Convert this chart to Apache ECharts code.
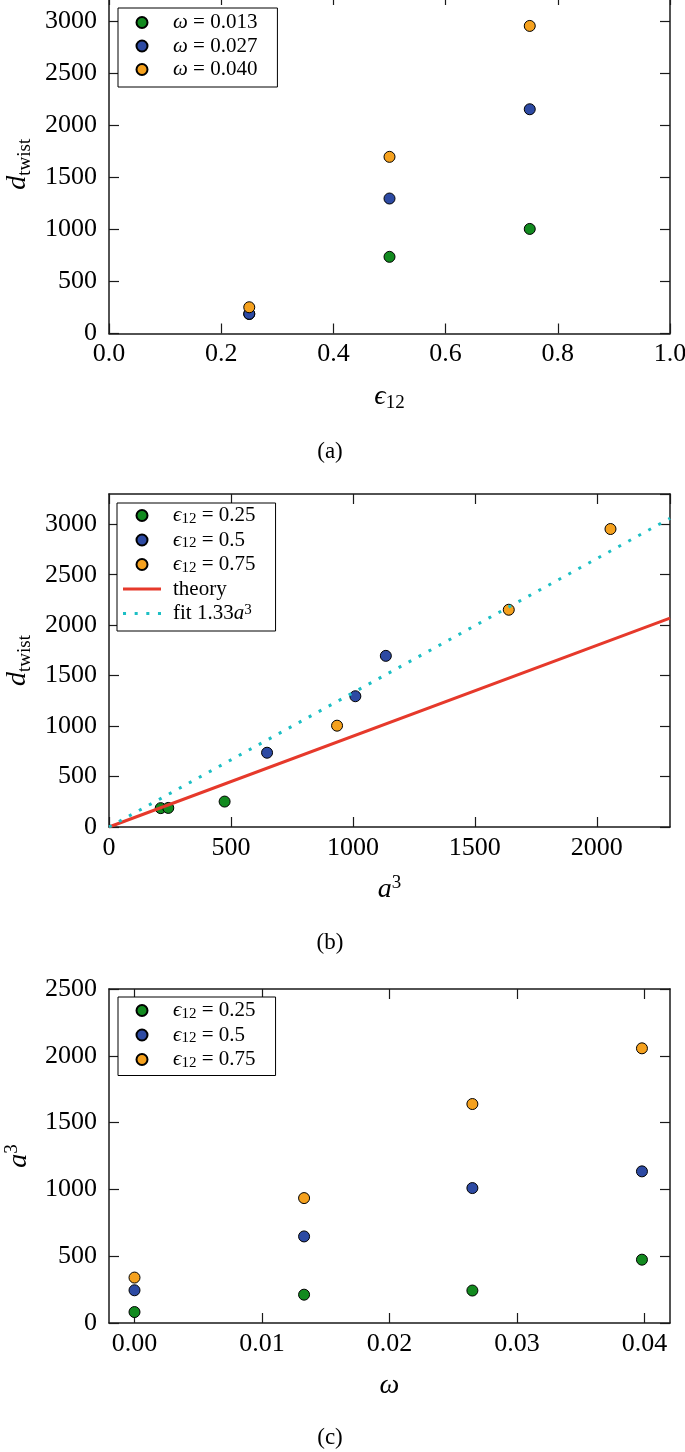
<!DOCTYPE html>
<html>
<head>
<meta charset="utf-8">
<script src="https://cdn.jsdelivr.net/npm/echarts@6/dist/echarts.min.js"></script>
<style>
html,body{margin:0;padding:0;background:#fff;}
#chart{width:685px;height:1452px;}
</style>
</head>
<body>
<div id="chart"></div>
<script>
// ---------- data ----------
const epsilon = [0.25, 0.5, 0.75];
const omegaLabels = ['0.013', '0.027', '0.040'];
const epsLabels = ['0.25', '0.5', '0.75'];
// panel (a): d_twist vs epsilon_12, one array per omega
const dTwistW013 = [187, 736, 1004];
const dTwistW027 = [189, 1296, 2153];
const dTwistW040 = [252, 1696, 2953];
// panel (c): a^3 vs omega, one array per epsilon
const omega = [0, 0.0133, 0.0265, 0.0398];
const a3Eps025 = [82, 212, 243, 474];
const a3Eps050 = [245, 648, 1010, 1135];
const a3Eps075 = [340, 935, 1639, 2056];
// panel (b): theory and fit lines (end points)
const lineA3 = [0, 2300];
const theoryD = [0, 2070];
const fitD = [0, 3059];
// ticks
const ticksC_x = [0, 0.01, 0.02, 0.03, 0.04];

// ---------- styling ----------
const FONT = '"Liberation Serif", "DejaVu Serif", serif';
const COLORS = ['#128a1f', '#2d4aa3', '#f5a11e'];
const AXIS_COLOR = '#1a1a1a';

const nameRich = {
  i: {fontFamily: FONT, fontStyle: 'italic', fontSize: 28, lineHeight: 32, color: '#000'},
  sub: {fontFamily: FONT, fontSize: 19, lineHeight: 13, verticalAlign: 'bottom', color: '#000'},
  sup: {fontFamily: FONT, fontSize: 19, lineHeight: 20, verticalAlign: 'top', color: '#000'}
};
const legRich = {
  i: {fontFamily: FONT, fontStyle: 'italic', fontSize: 21, lineHeight: 22, color: '#000'},
  t: {fontFamily: FONT, fontSize: 21, lineHeight: 22, color: '#000'},
  sub: {fontFamily: FONT, fontSize: 15, lineHeight: 9, verticalAlign: 'bottom', color: '#000'},
  sup: {fontFamily: FONT, fontSize: 15, lineHeight: 14, verticalAlign: 'top', color: '#000'}
};

const legendText = {};
omegaLabels.forEach(o => { legendText['ω = ' + o] = '{i|ω}{t| = ' + o + '}'; });
epsLabels.forEach(e => { legendText['ϵ12 = ' + e] = '{i|ϵ}{sub|12}{t| = ' + e + '}'; });
legendText['theory'] = '{t|theory}';
legendText['fit'] = '{t|fit 1.33}{i|a}{sup|3}';

const ICON_LINE = 'path://M0,0h38v3h-38z';
const ICON_DOTS = 'path://M0,0h3v3h-3zM11.5,0h3v3h-3zM23,0h3v3h-3zM34.5,0h3v3h-3z';

function grid(top, height) {
  return {left: 109, width: 561, top: top, height: height, containLabel: false, outerBoundsMode: 'none', show: false};
}

function axisLine() { return {show: true, onZero: false, lineStyle: {color: AXIS_COLOR, width: 1.5}}; }
function axisTick(custom) {
  const t = {show: true, inside: true, length: 10, lineStyle: {color: AXIS_COLOR, width: 1.2}};
  if (custom) t.customValues = custom;
  return t;
}

function xAxes(gi, min, max, interval, fmt, name, opts) {
  opts = opts || {};
  const label = {show: true, fontFamily: FONT, fontSize: 26, color: '#000', margin: 8,
    formatter: fmt, showMaxLabel: opts.showMax !== false, showMinLabel: true};
  if (opts.custom) label.customValues = opts.custom;
  const base = {type: 'value', gridIndex: gi, min: min, max: max, splitLine: {show: false}};
  if (interval) base.interval = interval;
  return [
    Object.assign({}, base, {position: 'bottom', axisLine: axisLine(), axisTick: axisTick(opts.custom),
      axisLabel: label, name: name, nameLocation: 'middle', nameGap: 47,
      nameTextStyle: {rich: nameRich}}),
    Object.assign({}, base, {position: 'top', axisLine: axisLine(), axisTick: axisTick(opts.custom),
      axisLabel: {show: false}})
  ];
}
function yAxes(gi, min, max, interval, name, opts) {
  opts = opts || {};
  const base = {type: 'value', gridIndex: gi, min: min, max: max, interval: interval, splitLine: {show: false}};
  return [
    Object.assign({}, base, {position: 'left', axisLine: axisLine(), axisTick: axisTick(),
      axisLabel: {show: true, fontFamily: FONT, fontSize: 26, color: '#000', margin: 12,
        showMaxLabel: opts.showMax !== false, formatter: v => String(v)},
      name: name, nameLocation: 'middle', nameRotate: 90, nameGap: opts.nameGap || 74,
      nameTextStyle: {rich: nameRich}}),
    Object.assign({}, base, {position: 'right', axisLine: axisLine(), axisTick: axisTick(),
      axisLabel: {show: false}})
  ];
}

function legendItem(n) {
  if (n === 'theory') return {name: n, icon: ICON_LINE};
  if (n === 'fit') return {name: n, icon: ICON_DOTS};
  return {name: n, icon: 'circle'};
}

function legend(left, top, names, padding, gap, textPad) {
  return {
    left: left, top: top, orient: 'vertical', selectedMode: false,
    data: names.map(legendItem), itemWidth: 38, itemHeight: 11, itemGap: gap,
    symbolKeepAspect: true,
    padding: padding, backgroundColor: '#fff', borderColor: '#000', borderWidth: 1, borderRadius: 0,
    textStyle: {rich: legRich, color: '#000', padding: [0, 0, 0, textPad]},
    formatter: n => legendText[n]
  };
}

function pairs(xs, ys) { return xs.map((x, k) => [x, ys[k]]); }

function scatter(name, xi, yi, data, color) {
  return {type: 'scatter', name: name, xAxisIndex: xi, yAxisIndex: yi, data: data,
    symbol: 'circle', symbolSize: 11, z: 2,
    itemStyle: {color: color, borderColor: '#000', borderWidth: 1, opacity: 1}};
}

// ---------- series ----------
const series = [];
// (a)
[dTwistW013, dTwistW027, dTwistW040].forEach((arr, k) => {
  series.push(scatter('ω = ' + omegaLabels[k], 0, 0, pairs(epsilon, arr), COLORS[k]));
});
// (b)
const dByEps = epsilon.map((e, j) => [dTwistW013[j], dTwistW027[j], dTwistW040[j]]);
[a3Eps025, a3Eps050, a3Eps075].forEach((arr, k) => {
  series.push(scatter('ϵ12 = ' + epsLabels[k], 2, 2, pairs(arr.slice(1), dByEps[k]), COLORS[k]));
});
series.push({type: 'line', name: 'theory', xAxisIndex: 2, yAxisIndex: 2, data: pairs(lineA3, theoryD),
  symbol: 'none', showSymbol: false, z: 3, clip: true,
  lineStyle: {color: '#e6392b', width: 3}, itemStyle: {color: '#e6392b', borderWidth: 0}});
series.push({type: 'line', name: 'fit', xAxisIndex: 2, yAxisIndex: 2, data: pairs(lineA3, fitD),
  symbol: 'none', showSymbol: false, z: 3, clip: true,
  lineStyle: {color: '#1cbfc4', width: 3, type: [3, 8.4], cap: 'butt'}, itemStyle: {color: '#1cbfc4', borderWidth: 0}});
// (c)
[a3Eps025, a3Eps050, a3Eps075].forEach((arr, k) => {
  series.push(scatter('ϵ12 = ' + epsLabels[k], 4, 4, pairs(omega, arr), COLORS[k]));
});

const option = {
  backgroundColor: '#fff',
  animation: false,
  grid: [grid(-5, 338.5), grid(494, 333), grid(989, 334)],
  xAxis: [].concat(
    xAxes(0, 0, 1, 0.2, v => v.toFixed(1), '{i|ϵ}{sub|12}'),
    xAxes(1, 0, 2300, 500, v => String(v), '{i|a}{sup|3}', {showMax: false}),
    xAxes(2, -0.002, 0.042, null, v => v.toFixed(2), '{i|ω}', {custom: ticksC_x})
  ),
  yAxis: [].concat(
    yAxes(0, 0, 3250, 500, '{i|d}{sub|twist}', {showMax: false}),
    yAxes(1, 0, 3300, 500, '{i|d}{sub|twist}', {showMax: false}),
    yAxes(2, 0, 2500, 500, '{i|a}{sup|3}')
  ),
  legend: [
    legend(118, 8, ['ω = 0.013', 'ω = 0.027', 'ω = 0.040'], [4, 20, 7, 17.5], 2.5, 7),
    legend(117, 503, ['ϵ12 = 0.25', 'ϵ12 = 0.5', 'ϵ12 = 0.75', 'theory', 'fit'], [2, 20, 7, 6], 3, 7),
    legend(118, 997, ['ϵ12 = 0.25', 'ϵ12 = 0.5', 'ϵ12 = 0.75'], [3, 20, 5, 17.5], 3, 7)
  ],
  graphic: [
    {type: 'text', x: 330, y: 452, style: {text: '(a)', fontFamily: FONT, fontSize: 23, fill: '#000', align: 'center', verticalAlign: 'middle'}},
    {type: 'text', x: 330, y: 943, style: {text: '(b)', fontFamily: FONT, fontSize: 23, fill: '#000', align: 'center', verticalAlign: 'middle'}},
    {type: 'text', x: 330, y: 1438, style: {text: '(c)', fontFamily: FONT, fontSize: 23, fill: '#000', align: 'center', verticalAlign: 'middle'}}
  ],
  series: series
};

const chart = echarts.init(document.getElementById('chart'), null, {renderer: 'canvas'});
chart.setOption(option);
</script>
</body>
</html>
